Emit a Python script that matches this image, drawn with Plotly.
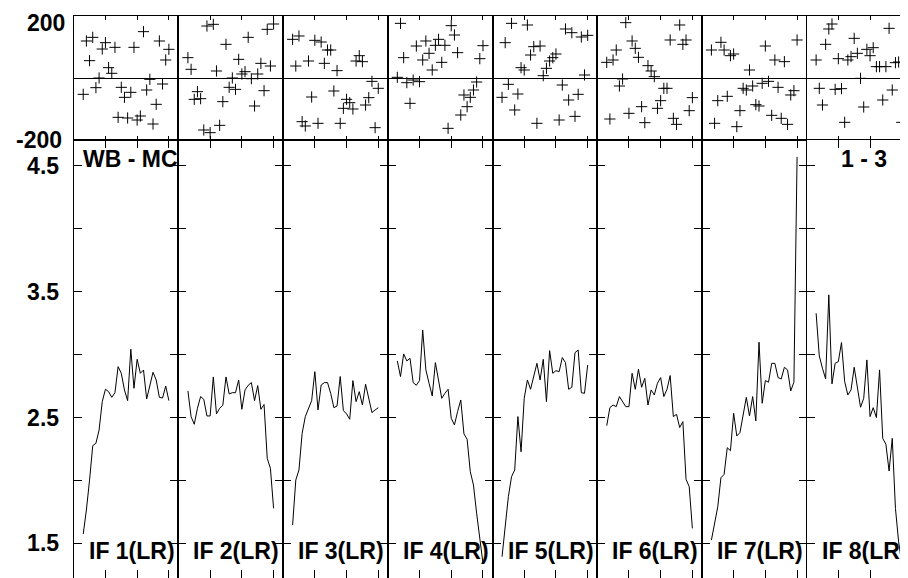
import plotly.graph_objects as go

# channel numbers shared by every IF
channels = list(range(3, 31))

# phase (deg), one list per IF, channel 3..30
phase_if1 = [-52.7, 119.4, 55.9, 131.2, -31.2, 0.0, 93.5, 114.0, 33.3, 15.1, 98.9, -126.9, -30.1, -62.4,
             -129.0, -46.2, 98.9, -135.5, -122.6, 149.5, -38.7, -4.3, -148.4, -84.9, 119.4, -19.4, 58.1, 92.5]
phase_if2 = [65.6, 28.0, -68.8, -44.1, -66.7, -167.7, 167.7, -176.3, 173.1, 22.6, -152.7, -76.3, 108.6, -30.1,
             0.0, -36.6, 60.2, 12.9, 20.4, 131.2, -2.2, -90.3, 12.9, 47.3, -40.9, 157.0, 38.7, 174.2]
phase_if3 = [124.7, 38.7, 135.5, -140.9, -154.8, 54.8, -61.3, 121.5, -146.2, 116.1, 47.3, 90.3, 90.3, -41.9,
             23.7, -146.2, -97.8, -68.8, -79.6, -100.0, 54.8, 72.0, 52.7, -87.1, -63.4, -10.8, -160.2, -33.3]
phase_if4 = [2.2, 176.3, 65.6, -15.1, -81.7, -6.5, 103.2, -11.8, 58.1, 119.4, 79.6, 25.8, 105.4, 124.7,
             50.5, 105.4, -162.4, 168.8, 138.7, 81.7, -119.4, -54.8, -92.5, -62.4, -38.7, -12.9, 62.4, 104.3]
phase_if5 = [-62.4, 114.0, -20.4, 176.3, -103.2, -51.6, 33.3, 25.8, 171.0, 74.2, 101.1, -146.2, 103.2, 7.5,
             31.2, 54.8, 65.6, 77.4, -135.5, -22.6, 158.1, -71.0, 146.2, -123.7, -52.7, 132.3, 9.7, 137.6]
phase_if6 = [50.5, -132.3, 58.1, 90.3, -25.8, -3.2, 178.5, -114.0, 119.4, 95.7, 66.7, -92.5, -144.1, 39.8,
             22.6, 4.3, -97.8, -73.1, -33.3, -33.3, 122.6, -130.1, -149.5, 171.0, 108.6, 122.6, -105.4, -63.4]
phase_if7 = [90.3, -146.2, -73.1, 115.1, 90.3, -59.1, 72.0, 77.4, -157.0, -105.4, -33.3, -38.7, 25.8, -25.8,
             -86.0, -90.3, -17.2, 103.2, -10.8, -120.4, 58.1, -30.1, -130.1, 52.7, -149.5, -54.8, -40.9, 122.6]
phase_if8 = [58.1, -33.3, -87.1, 108.6, 158.1, 174.2, -36.6, 62.4, -34.4, -143.0, 58.1, 68.8, 127.9, 79.6,
             -1.1, -93.5, 92.5, 72.0, 97.8, 36.6, 36.6, -71.0, 36.6, 160.2, -38.7, 49.5, 51.6, -143.0]

# amplitude, one list per IF, channel 3..30
amp_if1 = [1.574, 1.765, 2.003, 2.276, 2.295, 2.40, 2.626, 2.724, 2.705, 2.66, 2.697, 2.904, 2.851, 2.718,
           2.634, 3.042, 2.732, 2.962, 2.851, 2.877, 2.647, 2.745, 2.859, 2.798, 2.66, 2.655, 2.75, 2.634]
amp_if2 = [2.711, 2.507, 2.446, 2.573, 2.666, 2.644, 2.512, 2.512, 2.822, 2.528, 2.573, 2.597, 2.822, 2.687,
           2.697, 2.697, 2.798, 2.565, 2.719, 2.756, 2.777, 2.634, 2.753, 2.565, 2.603, 2.175, 2.096, 1.778]
amp_if3 = [1.646, 2.003, 2.083, 2.374, 2.507, 2.573, 2.634, 2.864, 2.560, 2.758, 2.777, 2.777, 2.692, 2.578,
           2.591, 2.825, 2.555, 2.528, 2.486, 2.793, 2.626, 2.705, 2.599, 2.764, 2.639, 2.539, 2.560, 2.578]
amp_if4 = [2.949, 2.825, 3.005, 2.949, 2.970, 2.777, 2.756, 2.793, 3.195, 2.878, 2.772, 2.671, 2.936, 2.785,
           2.652, 2.692, 2.724, 2.494, 2.441, 2.547, 2.639, 2.370, 2.327, 2.070, 1.964, 1.739, 1.526, 1.341]
amp_if5 = [1.394, 1.632, 1.871, 2.030, 2.083, 2.507, 2.228, 2.652, 2.798, 2.724, 2.838, 2.930, 2.798, 2.962,
           2.626, 3.031, 2.851, 2.872, 2.864, 2.976, 2.936, 2.724, 2.740, 3.015, 3.036, 2.697, 2.692, 2.917]
amp_if6 = [2.435, 2.578, 2.599, 2.586, 2.666, 2.626, 2.586, 2.586, 2.851, 2.724, 2.883, 2.740, 2.811, 2.599,
           2.719, 2.679, 2.772, 2.817, 2.666, 2.724, 2.833, 2.507, 2.525, 2.420, 2.467, 2.009, 1.950, 1.619]
amp_if7 = [1.526, 1.646, 1.791, 2.022, 2.048, 2.260, 2.236, 2.533, 2.353, 2.380, 2.507, 2.660, 2.512, 2.666,
           2.473, 3.098, 2.613, 2.793, 2.780, 2.930, 2.930, 2.817, 2.806, 2.899, 2.878, 2.711, 2.780, 4.57]
amp_if8 = [3.328, 2.989, 2.891, 2.806, 3.474, 2.767, 2.930, 2.944, 3.095, 2.785, 2.679, 2.719, 2.899, 2.732,
           2.581, 2.652, 2.957, 2.507, 2.578, 2.499, 2.878, 2.334, 2.287, 2.075, 2.334, 1.778, 1.513, 1.341]

phases = [phase_if1, phase_if2, phase_if3, phase_if4, phase_if5, phase_if6, phase_if7, phase_if8]
amps = [amp_if1, amp_if2, amp_if3, amp_if4, amp_if5, amp_if6, amp_if7, amp_if8]
panel_labels = ["IF 1(LR)", "IF 2(LR)", "IF 3(LR)", "IF 4(LR)", "IF 5(LR)", "IF 6(LR)", "IF 7(LR)", "IF 8(LR)"]

amp_ticks = [1.5, 2.0, 2.5, 3.0, 3.5, 4.0, 4.5]
amp_ticktext = ["1.5", "", "2.5", "", "3.5", "", "4.5"]
phase_labels = ["200", "-200"]

# the page body adds an 8px margin, so the figure is 8px smaller and all
# positions below are page pixels minus that offset
OFF = 8
W, H = 908 - OFF, 578 - OFF
left = 73.7 - OFF   # left edge of first panel
pw = 104.7          # panel width
xmax = 33.0
y_top, y_mid = 16 - OFF, 140 - OFF   # rows of the phase strip

font = dict(family="Liberation Sans, Arial, sans-serif", size=23, color="black", weight="bold")

fig = go.Figure()
layout = {}

for i in range(8):
    x0 = left + pw * i
    x1 = x0 + pw
    rng = [0, xmax]
    if x1 > W:
        rng = [0, xmax * (W - x0) / pw]
        x1 = W
    tn, bn = i + 1, i + 9
    tx = "x" if tn == 1 else f"x{tn}"
    ty = "y" if tn == 1 else f"y{tn}"
    bx, by = f"x{bn}", f"y{bn}"

    fig.add_trace(go.Scatter(
        x=channels, y=phases[i], mode="markers", xaxis=tx, yaxis=ty,
        marker=dict(symbol="cross-thin", size=8, line=dict(width=1, color="black")),
        showlegend=False))
    fig.add_trace(go.Scatter(
        x=channels, y=amps[i], mode="lines", xaxis=bx, yaxis=by,
        line=dict(color="black", width=1), showlegend=False))

    common = dict(showline=True, linecolor="black", linewidth=1, mirror="ticks",
                  tickcolor="black", tickwidth=1, showgrid=False)
    layout["xaxis" if tn == 1 else f"xaxis{tn}"] = dict(
        domain=[x0 / W, x1 / W], range=rng, anchor=ty, ticks="inside", ticklen=4,
        tickvals=[0, 10, 20, 30], showticklabels=False, zeroline=False, **common)
    layout["yaxis" if tn == 1 else f"yaxis{tn}"] = dict(
        domain=[1 - y_mid / H, 1 - y_top / H], range=[-200, 200], anchor=tx,
        ticks="", showticklabels=False,
        zeroline=True, zerolinecolor="black", zerolinewidth=1, **common)
    layout[f"xaxis{bn}"] = dict(
        domain=[x0 / W, x1 / W], range=rng, anchor=by, ticks="inside", ticklen=8,
        tickvals=[0, 10, 20, 30], showticklabels=False, zeroline=False, **common)
    layout[f"yaxis{bn}"] = dict(
        domain=[0, 1 - y_mid / H], range=[1.225, 4.704], anchor=bx,
        ticks="inside", ticklen=8, tickvals=amp_ticks, ticktext=amp_ticktext,
        showticklabels=(i == 0), tickfont=font, ticklabelstandoff=9,
        ticklabeloverflow="allow", zeroline=False, **common)

annotations = []
# phase strip labels sit slightly inside the strip ends
annotations.append(dict(text=phase_labels[0], xref="paper", yref="paper", x=(67.5 - OFF) / W,
                        xanchor="right", y=1.0, yanchor="top",
                        showarrow=False, font=font))
annotations.append(dict(text=phase_labels[1], xref="paper", yref="paper", x=(64 - OFF) / W,
                        xanchor="right", y=1 - (140.5 - OFF) / H, yanchor="middle",
                        showarrow=False, font=font))
for i, lab in enumerate(panel_labels):
    annotations.append(dict(text=lab, xref="paper", yref="paper",
                            x=(left + pw * i + 13) / W, xanchor="left",
                            y=1 - (551 - OFF) / H, yanchor="middle", showarrow=False, font=font))
annotations.append(dict(text="WB - MC", xref="paper", yref="paper", x=(81 - OFF) / W, xanchor="left",
                        y=1 - (158.7 - OFF) / H, yanchor="middle", showarrow=False, font=font))
annotations.append(dict(text="1 - 3", xref="paper", yref="paper", x=(838.7 - OFF) / W, xanchor="left",
                        y=1 - (158.7 - OFF) / H, yanchor="middle", showarrow=False, font=font))

fig.update_layout(
    width=W, height=H,
    margin=dict(l=0, r=0, t=0, b=0, autoexpand=False),
    paper_bgcolor="white", plot_bgcolor="white",
    annotations=annotations,
    **layout
)

fig.write_html("out.html")
